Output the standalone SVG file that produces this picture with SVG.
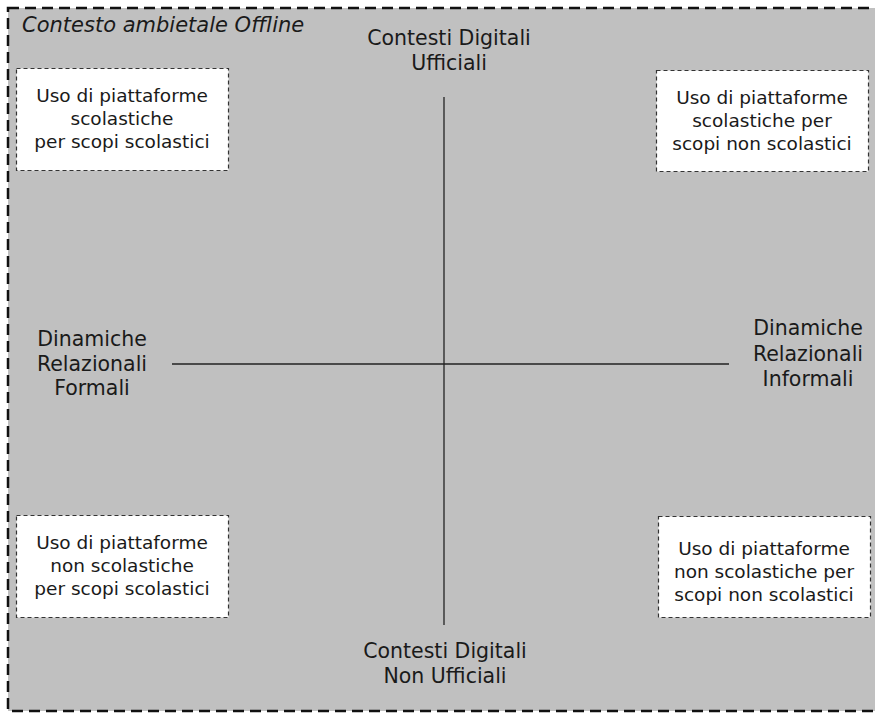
<svg xmlns="http://www.w3.org/2000/svg" width="875" height="714" viewBox="0 0 875 714">
<style>
.t{font-family:"DejaVu Sans",Verdana,sans-serif;font-size:18.5px;fill:#1a1a1a;text-anchor:middle}
.lab{font-family:"DejaVu Sans",Verdana,sans-serif;font-size:20.5px;fill:#1a1a1a;text-anchor:middle}
.box{fill:#fff;stroke:#333;stroke-width:1.2;stroke-dasharray:4 3}
.ax{stroke:#222;stroke-width:1.3}
</style>
<rect width="875" height="714" fill="#fff"/>
<g id="context">
<rect x="8" y="8" width="880" height="703" fill="#c0c0c0" stroke="#111" stroke-width="2.5" stroke-dasharray="11 6"/>
<text x="22" y="32" font-family="DejaVu Sans,Verdana,sans-serif" font-size="21" font-style="italic" fill="#1a1a1a">Contesto ambietale Offline</text>
</g>
<g id="connectors">
<line class="ax" x1="444" y1="97" x2="444" y2="625"/>
<line class="ax" x1="172" y1="364" x2="729" y2="364"/>
</g>
<g id="top-label"><text class="lab" x="449" y="45">Contesti Digitali</text><text class="lab" x="449" y="70">Ufficiali</text></g>
<g id="bottom-label"><text class="lab" x="445" y="658">Contesti Digitali</text><text class="lab" x="445" y="683">Non Ufficiali</text></g>
<g id="left-label"><text class="lab" x="92" y="346">Dinamiche</text><text class="lab" x="92" y="371">Relazionali</text><text class="lab" x="92" y="395">Formali</text></g>
<g id="right-label"><text class="lab" x="808" y="335">Dinamiche</text><text class="lab" x="808" y="361">Relazionali</text><text class="lab" x="808" y="386">Informali</text></g>
<g id="box-tl"><rect class="box" x="16.5" y="68.5" width="212" height="102"/>
<text class="t" x="122" y="102">Uso di piattaforme</text><text class="t" x="122" y="125">scolastiche</text><text class="t" x="122" y="148">per scopi scolastici</text></g>
<g id="box-tr"><rect class="box" x="656.5" y="70.5" width="212" height="101"/>
<text class="t" x="762" y="104">Uso di piattaforme</text><text class="t" x="762" y="127">scolastiche per</text><text class="t" x="762" y="150">scopi non scolastici</text></g>
<g id="box-bl"><rect class="box" x="16.5" y="515.5" width="212" height="102"/>
<text class="t" x="122" y="549">Uso di piattaforme</text><text class="t" x="122" y="572">non scolastiche</text><text class="t" x="122" y="595">per scopi scolastici</text></g>
<g id="box-br"><rect class="box" x="658.5" y="516.5" width="212" height="101"/>
<text class="t" x="764" y="555">Uso di piattaforme</text><text class="t" x="764" y="578">non scolastiche per</text><text class="t" x="764" y="601">scopi non scolastici</text></g>
</svg>
